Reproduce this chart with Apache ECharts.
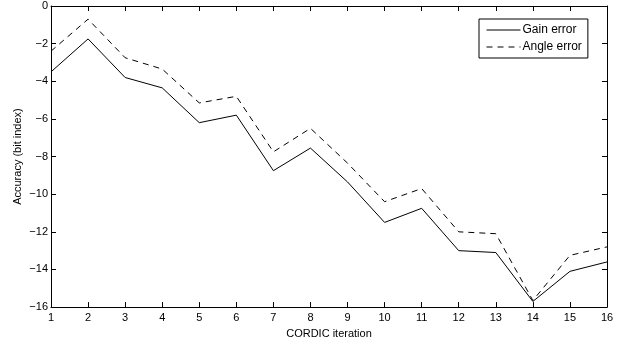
<!DOCTYPE html>
<html>
<head>
<meta charset="utf-8">
<script src="https://cdn.jsdelivr.net/npm/echarts@6/dist/echarts.min.js"></script>
<style>
  html, body { margin: 0; padding: 0; background: #fff; }
  #chart { width: 635px; height: 344px; }
</style>
</head>
<body>
<div id="chart"></div>
<script>
const iterations = [1, 2, 3, 4, 5, 6, 7, 8, 9, 10, 11, 12, 13, 14, 15, 16];
const gainError = [-3.5, -1.75, -3.8, -4.35, -6.2, -5.8, -8.75, -7.55, -9.35, -11.5, -10.75, -13.0, -13.1, -15.7, -14.1, -13.6];
const angleError = [-2.4, -0.7, -2.75, -3.35, -5.15, -4.8, -7.75, -6.5, -8.35, -10.4, -9.7, -12.0, -12.1, -15.65, -13.25, -12.8];

const font = "Liberation Sans, Arial, Helvetica, sans-serif";
const chart = echarts.init(document.getElementById("chart"));

const pair = (xs, ys) => xs.map((x, i) => [x, ys[i]]);
const minus = (v) => String(v).replace("-", "\u2212");

const axisBase = {
  axisLine: { show: true, onZero: false, lineStyle: { color: "#000", width: 1 } },
  axisTick: { show: true, inside: true, length: 5, lineStyle: { color: "#000" } },
  splitLine: { show: false },
};

chart.setOption({
  animation: false,
  backgroundColor: "#fff",
  grid: { left: 51, right: 28, top: 6, bottom: 36 },
  legend: {
    left: 479,
    top: 19,
    orient: "vertical",
    backgroundColor: "#fff",
    borderColor: "#000",
    borderWidth: 1,
    borderRadius: 0,
    padding: [5, 6, 5, 7],
    itemGap: 5,
    itemWidth: 34,
    itemHeight: 12,
    itemStyle: { opacity: 0 },
    lineStyle: { width: 1 },
    textStyle: { fontFamily: font, fontSize: 12, color: "#000", padding: [0, 0, 0, -3] },
    data: ["Gain error", "Angle error"],
  },
  xAxis: [
    {
      ...axisBase,
      type: "value",
      min: 1,
      max: 16,
      interval: 1,
      name: "CORDIC iteration",
      nameLocation: "middle",
      nameGap: 19,
      nameTextStyle: { fontFamily: font, fontSize: 11, color: "#000" },
      axisLabel: { fontFamily: font, fontSize: 11, color: "#000", margin: 5 },
    },
    {
      ...axisBase,
      type: "value",
      position: "top",
      min: 1,
      max: 16,
      interval: 1,
      axisLabel: { show: false },
    },
  ],
  yAxis: [
    {
      ...axisBase,
      type: "value",
      min: -16,
      max: 0,
      interval: 2,
      name: "Accuracy (bit index)",
      nameLocation: "middle",
      nameGap: 28,
      nameMoveOverlap: false,
      nameTextStyle: { fontFamily: font, fontSize: 11, color: "#000" },
      axisLabel: { fontFamily: font, fontSize: 11, color: "#000", margin: 3, formatter: minus },
    },
    {
      ...axisBase,
      type: "value",
      position: "right",
      min: -16,
      max: 0,
      interval: 2,
      axisLabel: { show: false },
    },
  ],
  series: [
    {
      name: "Gain error",
      type: "line",
      data: pair(iterations, gainError),
      symbol: "none",
      lineStyle: { color: "#000", width: 1 },
      itemStyle: { color: "#000" },
    },
    {
      name: "Angle error",
      type: "line",
      data: pair(iterations, angleError),
      symbol: "none",
      lineStyle: { color: "#000", width: 1, type: [6, 5] },
      itemStyle: { color: "#000" },
    },
  ],
});
</script>
</body>
</html>
